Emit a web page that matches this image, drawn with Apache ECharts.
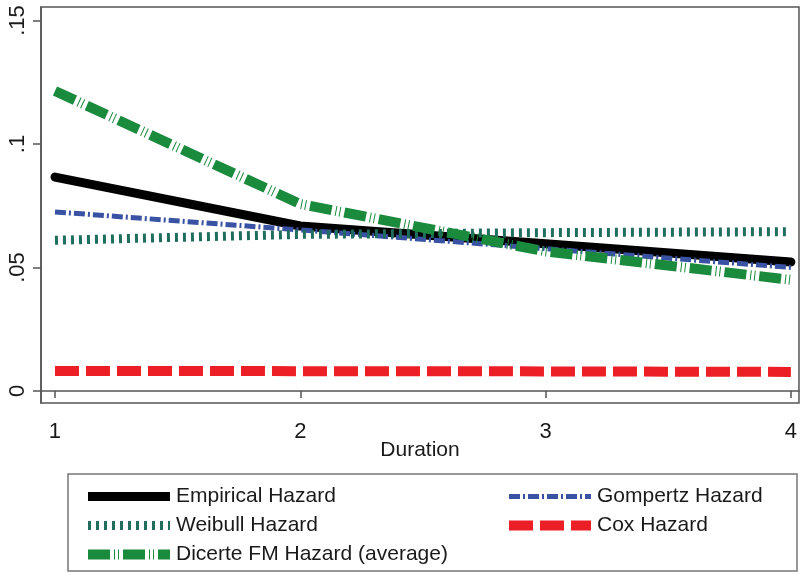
<!DOCTYPE html>
<html>
<head>
<meta charset="utf-8">
<script src="https://cdn.jsdelivr.net/npm/echarts@6/dist/echarts.min.js"></script>
<style>
  html, body { margin: 0; padding: 0; background: #fff; }
  #chart { width: 800px; height: 575px; }
</style>
</head>
<body>
<div id="chart"></div>
<script>
// durations on the x axis
const durations = [1, 2, 3, 4];
const xTicks = [1, 2, 3, 4];
const yTicks = [0, 0.05, 0.1, 0.15];
const yTickLabels = ['0', '.05', '.1', '.15'];

// hazard estimates
const empirical = [0.0866, 0.0668, 0.0596, 0.0522];
const gompertz = [0.0725, 0.0652, 0.0576, 0.0500];
const weibull = [0.0610, 0.0634, 0.0641, 0.0645];
const cox = [0.0081, 0.0080, 0.0079, 0.0077];
const dicerte = [0.1215, 0.0757, 0.0565, 0.0450];

const font = 'Liberation Sans, Arial, sans-serif';

function pairs(values) {
    return durations.map((d, i) => [d, values[i]]);
}

let chart = echarts.init(document.getElementById('chart'));

let seriesDefs = [
    { name: 'Empirical Hazard', data: empirical, color: '#000000', width: 9, dash: 'solid', cap: 'round' },
    { name: 'Gompertz Hazard', data: gompertz, color: '#3a52a3', width: 5, dash: [11, 3, 2, 3], cap: 'butt' },
    { name: 'Weibull Hazard', data: weibull, color: '#1f6e5d', width: 9, dash: [3, 5], cap: 'butt' },
    { name: 'Cox Hazard', data: cox, color: '#ec1f27', width: 10, dash: [24, 7], cap: 'butt' },
    { name: 'Dicerte FM Hazard (average)', data: dicerte, color: '#1a8a3d', width: 10, dash: [22, 4, 1, 3, 1, 4], cap: 'butt' }
];

let legendText = { fontFamily: font, fontSize: 21, color: '#1a1a1a', padding: [0, 0, 0, 1] };

function legendItems(names) {
    return names.map(n => {
        let s = seriesDefs.find(d => d.name === n);
        return {
            name: n,
            itemStyle: { opacity: 0 },
            lineStyle: { width: s.width, type: s.dash, color: s.color, cap: 'butt' }
        };
    });
}

let option = {
    animation: false,
    backgroundColor: '#ffffff',
    grid: {
        left: 41, top: 7, right: 1, bottom: 172,
        show: true, borderColor: '#555', borderWidth: 1.5
    },
    xAxis: {
        type: 'value',
        min: 0.943, max: 4.033,
        name: 'Duration',
        nameLocation: 'middle',
        nameGap: 37,
        nameMoveOverlap: false,
        nameTextStyle: { fontFamily: font, fontSize: 21, color: '#1a1a1a' },
        splitLine: { show: false },
        axisLine: { show: true, lineStyle: { color: '#555', width: 1.5 } },
        axisTick: { show: true, length: 7, customValues: xTicks, lineStyle: { color: '#555', width: 1.5 } },
        axisLabel: {
            customValues: xTicks, margin: 18,
            fontFamily: font, fontSize: 22, color: '#1a1a1a',
            formatter: v => String(v)
        }
    },
    yAxis: {
        type: 'value',
        min: -0.0049, max: 0.1555,
        splitLine: { show: false },
        axisLine: { show: true, lineStyle: { color: '#555', width: 1.5 } },
        axisTick: { show: true, length: 8, customValues: yTicks, lineStyle: { color: '#555', width: 1.5 } },
        axisLabel: {
            customValues: yTicks, rotate: 90, margin: 12,
            fontFamily: font, fontSize: 22, color: '#1a1a1a',
            formatter: v => yTickLabels[yTicks.findIndex(t => Math.abs(t - v) < 1e-9)]
        }
    },
    graphic: [{
        type: 'rect',
        shape: { x: 68, y: 474, width: 729, height: 97 },
        style: { fill: 'none', stroke: '#777', lineWidth: 1.5 }
    }],
    legend: [{
        orient: 'vertical',
        left: 78, top: 481, height: 90,
        itemWidth: 82, itemHeight: 10, itemGap: 8,
        textStyle: legendText,
        data: legendItems(['Empirical Hazard', 'Weibull Hazard', 'Dicerte FM Hazard (average)'])
    }, {
        orient: 'vertical',
        left: 499, top: 481, height: 90,
        itemWidth: 82, itemHeight: 10, itemGap: 8,
        textStyle: legendText,
        data: legendItems(['Gompertz Hazard', 'Cox Hazard'])
    }],
    series: seriesDefs.map(s => ({
        name: s.name,
        type: 'line',
        data: pairs(s.data),
        symbol: 'none',
        color: s.color,
        lineStyle: { color: s.color, width: s.width, type: s.dash, cap: s.cap, join: 'round' }
    }))
};

chart.setOption(option);
</script>
</body>
</html>
